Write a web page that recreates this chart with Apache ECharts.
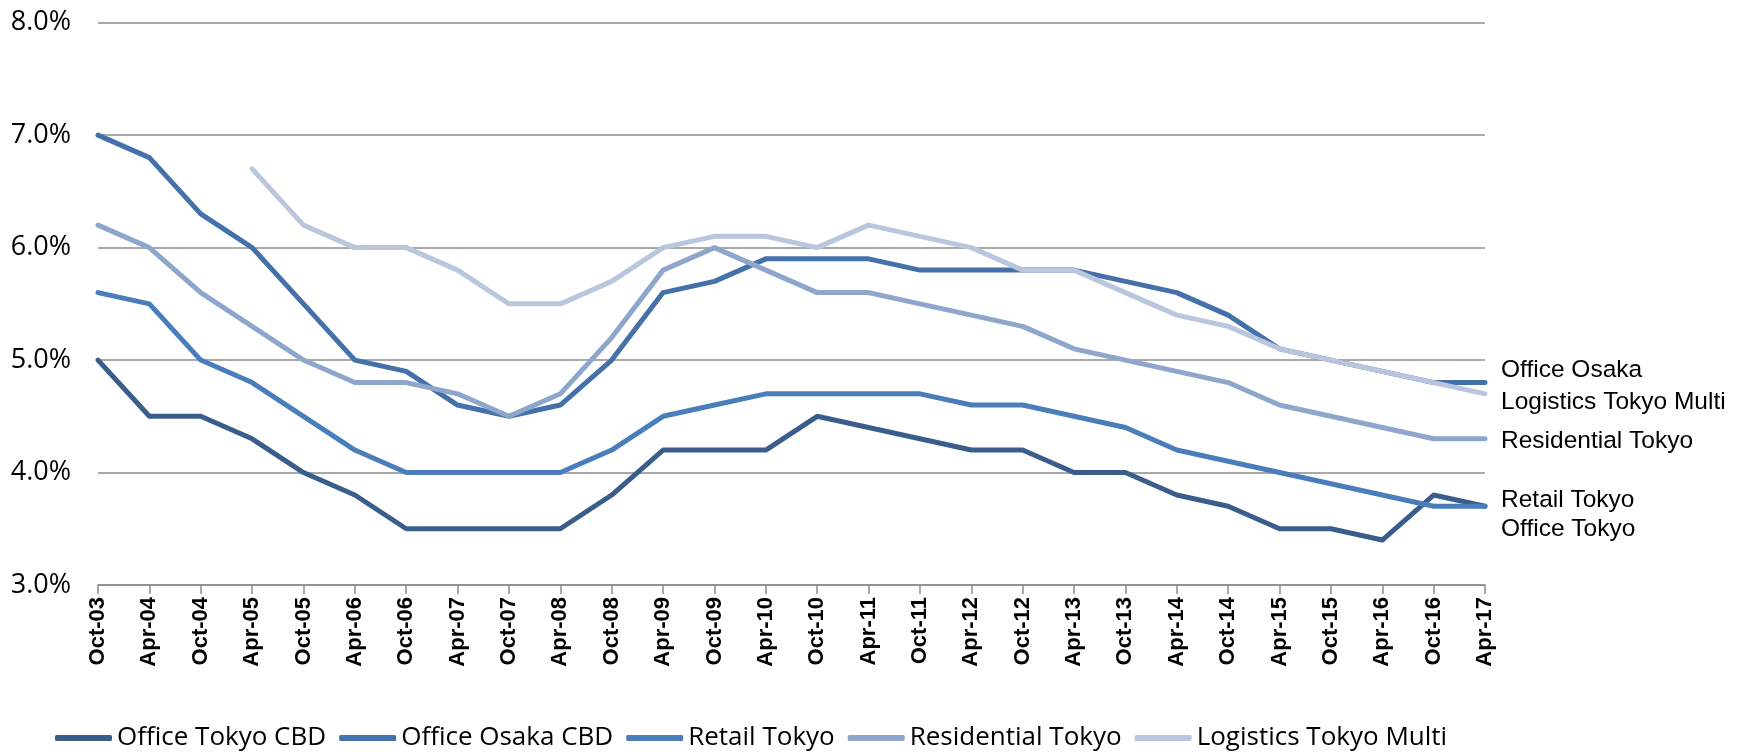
<!DOCTYPE html>
<html>
<head>
<meta charset="utf-8">
<script src="https://cdn.jsdelivr.net/npm/echarts@6/dist/echarts.min.js"></script>
<style>
html,body{margin:0;padding:0;background:#fff;}
#chart{width:1747px;height:752px;}
</style>
</head>
<body>
<div id="chart"></div>
<script>
const categories = ["Oct-03","Apr-04","Oct-04","Apr-05","Oct-05","Apr-06","Oct-06","Apr-07","Oct-07","Apr-08","Oct-08","Apr-09","Oct-09","Apr-10","Oct-10","Apr-11","Oct-11","Apr-12","Oct-12","Apr-13","Oct-13","Apr-14","Oct-14","Apr-15","Oct-15","Apr-16","Oct-16","Apr-17"];
const officeTokyoCBD = [5.0,4.5,4.5,4.3,4.0,3.8,3.5,3.5,3.5,3.5,3.8,4.2,4.2,4.2,4.5,4.4,4.3,4.2,4.2,4.0,4.0,3.8,3.7,3.5,3.5,3.4,3.8,3.7];
const officeOsakaCBD = [7.0,6.8,6.3,6.0,5.5,5.0,4.9,4.6,4.5,4.6,5.0,5.6,5.7,5.9,5.9,5.9,5.8,5.8,5.8,5.8,5.7,5.6,5.4,5.1,5.0,4.9,4.8,4.8];
const retailTokyo = [5.6,5.5,5.0,4.8,4.5,4.2,4.0,4.0,4.0,4.0,4.2,4.5,4.6,4.7,4.7,4.7,4.7,4.6,4.6,4.5,4.4,4.2,4.1,4.0,3.9,3.8,3.7,3.7];
const residentialTokyo = [6.2,6.0,5.6,5.3,5.0,4.8,4.8,4.7,4.5,4.7,5.2,5.8,6.0,5.8,5.6,5.6,5.5,5.4,5.3,5.1,5.0,4.9,4.8,4.6,4.5,4.4,4.3,4.3];
const logisticsTokyoMulti = [null,null,null,6.7,6.2,6.0,6.0,5.8,5.5,5.5,5.7,6.0,6.1,6.1,6.0,6.2,6.1,6.0,5.8,5.8,5.6,5.4,5.3,5.1,5.0,4.9,4.8,4.7];
const seriesNames = ["Office Tokyo CBD","Office Osaka CBD","Retail Tokyo","Residential Tokyo","Logistics Tokyo Multi"];
const endLabels = ["Office Tokyo","Office Osaka","Retail Tokyo","Residential Tokyo","Logistics Tokyo Multi"];
const yTicks = [3,4,5,6,7,8];

const colors = ["#3A5E8C","#4471AA","#4A7EBB","#8EA6CC","#B9C6DE"];
const labelDy = [23,-12,-6,2,8];
const dataSets = [officeTokyoCBD, officeOsakaCBD, retailTokyo, residentialTokyo, logisticsTokyoMulti];

const chart = echarts.init(document.getElementById('chart'));
chart.setOption({
  animation:false,
  backgroundColor:'#fff',
  grid:{left:98,top:22.7,right:262,bottom:167,containLabel:false},
  legend:{
    data:seriesNames,
    left:50, top:720,
    icon:'roundRect',
    itemWidth:57, itemHeight:6, itemGap:13,
    textStyle:{fontFamily:'Open Sans',fontSize:26,color:'#000'}
  },
  xAxis:{
    type:'category', data:categories, boundaryGap:false,
    axisLine:{lineStyle:{color:'#8c8c8c',width:1.5}},
    axisTick:{show:true,length:9,interval:0,lineStyle:{color:'#8c8c8c',width:1.5}},
    axisLabel:{interval:0,rotate:90,margin:12,fontFamily:'Liberation Sans',fontWeight:'bold',fontSize:22,color:'#000'},
    splitLine:{show:false}
  },
  yAxis:{
    type:'value', min:yTicks[0], max:yTicks[yTicks.length-1], interval:1,
    axisLine:{show:false}, axisTick:{show:false},
    axisLabel:{margin:27,fontFamily:'Open Sans',fontSize:27,color:'#000',formatter:v=>v.toFixed(1)+'%'},
    splitLine:{lineStyle:{color:'#8c8c8c',width:1.5}}
  },
  series: seriesNames.map((n,i)=>({
    name:n, type:'line', data:dataSets[i], symbol:'none', connectNulls:false,
    color:colors[i],
    lineStyle:{color:colors[i],width:5,cap:'round',join:'round'},
    itemStyle:{color:colors[i]},
    endLabel:{show:true,formatter:endLabels[i],distance:16,offset:[0,labelDy[i]],
      fontFamily:'Liberation Sans',fontSize:24.5,color:'#000'},
    labelLayout:{hideOverlap:false}
  }))
});
</script>
</body>
</html>
